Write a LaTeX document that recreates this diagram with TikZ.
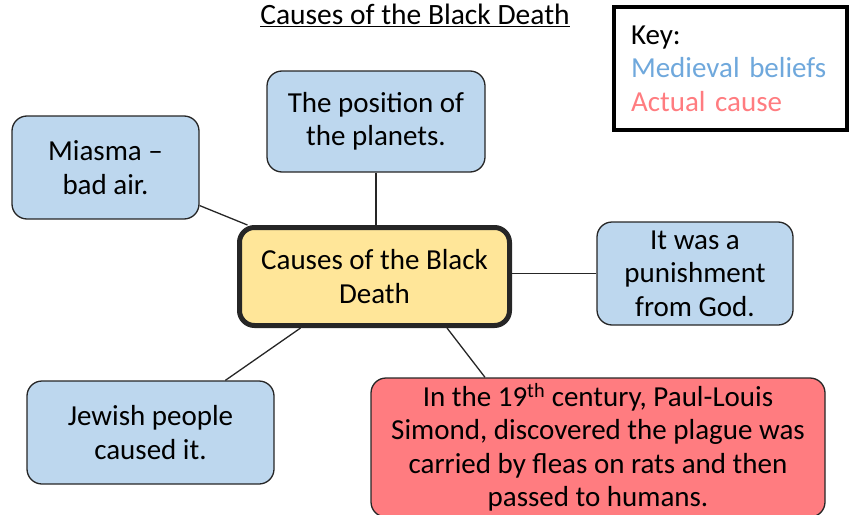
\documentclass[tikz,border=0pt]{standalone}
\usepackage{fontspec}
\setmainfont{Carlito}
\usepackage{tikz}

\definecolor{beliefblue}{HTML}{BDD7EE}
\definecolor{causered}{HTML}{FF7C80}
\definecolor{centreyellow}{HTML}{FFE699}
\definecolor{keyblue}{HTML}{6FA8DC}
\definecolor{keyred}{HTML}{FF7C80}

\begin{document}
\begin{tikzpicture}[x=1pt,y=-1pt,
        box/.style={draw=black!85,line width=1.3pt,rounded corners=15pt,
            inner sep=0pt,align=center,font=\fontsize{29}{33.5}\selectfont},
        belief/.style={box,fill=beliefblue},
        link/.style={draw=black!85,line width=1.3pt}]
            \useasboundingbox (0,0) rectangle (851,514);

            % title and key
            \node (title) at (415,15) {\fontsize{29.5}{33}\selectfont\underline{Causes of the Black Death}};
            \node[draw,line width=4pt,minimum width=233pt,minimum height=123pt,
                inner xsep=17pt,text width=199pt,align=left,
                font=\fontsize{29}{33.5}\selectfont] (key) at (730.5,68.5)
                {Key:\\ \textcolor{keyblue}{Medieval beliefs}\\ \textcolor{keyred}{Actual cause}};

            % centre
            \node[box,fill=centreyellow,line width=5pt,minimum width=270pt,minimum height=98pt] (centre) at (374.5,276.5)
                {Causes of the Black\\ Death};

            % beliefs
            \node[belief,minimum width=218pt,minimum height=101pt] (planets) at (376,121.5)
                {The position of\\ the planets.};
            \node[belief,minimum width=187pt,minimum height=103pt] (miasma) at (105.5,167.5)
                {Miasma --\\ bad air.};
            \node[belief,minimum width=196pt,minimum height=103pt] (god) at (695,273.5)
                {It was a\\ punishment\\ from God.};
            \node[belief,minimum width=247pt,minimum height=103pt] (jewish) at (150.5,432.5)
                {Jewish people\\ caused it.};

            % actual cause
            \node[box,fill=causered,minimum width=454pt,minimum height=139pt] (fleas) at (598,447.5)
                {In the 19\textsuperscript{th} century, Paul-Louis\\ Simond, discovered the plague was\\
                 carried by fleas on rats and then\\ passed to humans.};

            % links
            \draw[link] (planets.south) -- (planets.south |- centre.north);
            \draw[link] (miasma) -- (centre);
            \draw[link] (god.west) -- (god.west -| centre.east);
            \draw[link] (jewish) -- (centre);
            \draw[link] ([xshift=-113pt]fleas.north) -- ([xshift=-65pt]centre.south east);
        \end{tikzpicture}
\end{document}
